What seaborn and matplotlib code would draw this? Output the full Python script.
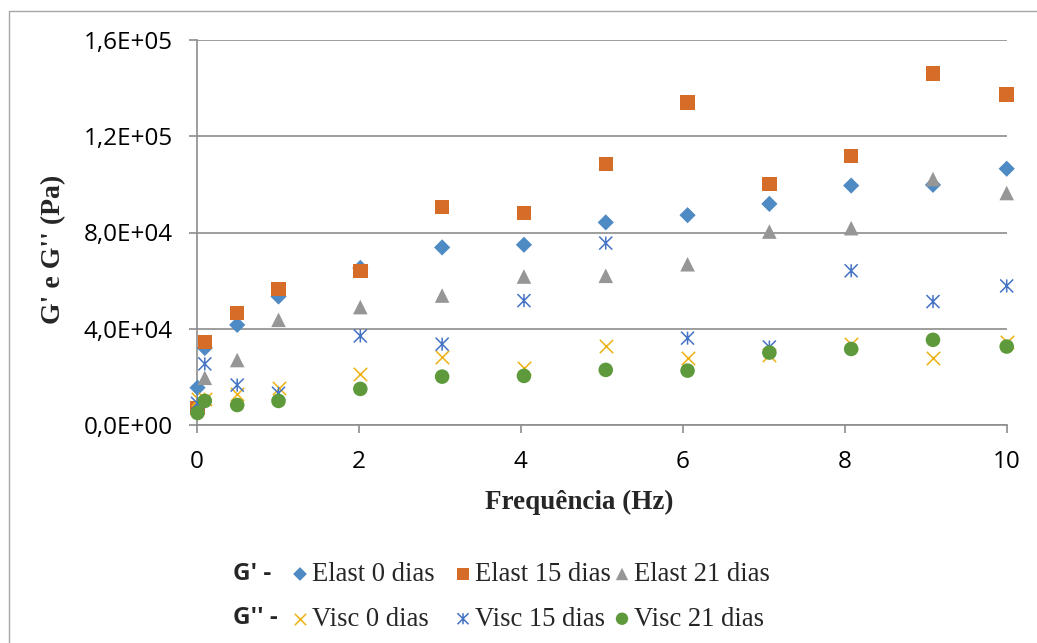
import numpy as np
import pandas as pd
import matplotlib
matplotlib.use("Agg")
import matplotlib.pyplot as plt
from matplotlib.path import Path
from matplotlib.patches import Rectangle
from matplotlib.ticker import FuncFormatter, FixedLocator
import seaborn as sns

# ---------------- data ----------------
freq = [0.01, 0.1, 0.5, 1.01, 2.02, 3.03, 4.04, 5.05, 6.06, 7.07, 8.08, 9.09, 10.0]
elast_0 = [15500, 32000, 41600, 53400, 65300, 73800, 74900, 84200, 87200, 91900, 99500, 99800, 106500]
elast_15 = [7000, 34500, 46600, 56600, 64100, 90600, 88200, 108400, 134000, 100200, 111900, 146000, 137300]
elast_21 = [8000, 19600, 27000, 43700, 49000, 53800, 61700, 62000, 66800, 80400, 81800, 102200, 96400]
visc_0 = [11000, 11000, 13000, 15300, 21200, 28200, 23500, 32900, 27700, 29000, 33800, 27700, 34500]
visc_15 = [9000, 25400, 16600, 13200, 37000, 33600, 51700, 75600, 36100, 32400, 64100, 51300, 57800]
visc_21 = [5000, 10000, 8300, 10000, 15000, 20100, 20400, 22900, 22600, 30100, 31600, 35400, 32600]

series_labels = ["Elast 0 dias", "Elast 15 dias", "Elast 21 dias",
                 "Visc 0 dias", "Visc 15 dias", "Visc 21 dias"]
x_ticks = [0, 2, 4, 6, 8, 10]
y_ticks = [0, 40000, 80000, 120000, 160000]
x_label = "Frequência (Hz)"
y_label = "G' e G'' (Pa)"
legend_prefix = ["G' -", "G'' -"]

# ---------------- style ----------------
sns.set_style("white")
plt.rcParams["font.family"] = ["Open Sans", "DejaVu Sans"]

star = Path([(0, -1), (0, 1), (-1, -1), (1, 1), (-1, 1), (1, -1)],
            [Path.MOVETO, Path.LINETO] * 3)

styles = [
    dict(marker="D", color="#4E8AC3", s=68, filled=True, lw=0),
    dict(marker="s", color="#D56D29", s=108, filled=True, lw=0),
    dict(marker="^", color="#969696", s=110, filled=True, lw=0),
    dict(marker="x", color="#EDB10F", s=92, filled=False, lw=1.1),
    dict(marker=star, color="#4472C4", s=88, filled=True, lw=1.1),
    dict(marker="o", color="#5E9A3C", s=110, filled=True, lw=0),
]

values = [elast_0, elast_15, elast_21, visc_0, visc_15, visc_21]
df = pd.concat([pd.DataFrame({"freq": freq, "G": v, "serie": lab})
                for v, lab in zip(values, series_labels)], ignore_index=True)

W, H = 1037, 643
fig = plt.figure(figsize=(W / 100, H / 100), dpi=100)
ax = fig.add_axes([196.7 / W, 1 - 425 / H, 810 / W, 385 / H])

handles = []
for lab, st in zip(series_labels, styles):
    sub = df[df["serie"] == lab]
    kw = dict(marker=st["marker"], s=st["s"], color=st["color"], clip_on=False,
              zorder=3, legend=False, ax=ax)
    if st["marker"] is star:
        kw.update(edgecolor=st["color"], linewidth=st["lw"], facecolor="none")
    elif st["filled"]:
        kw.update(edgecolor="none", linewidth=0)
    else:
        kw.update(linewidth=st["lw"])
    sns.scatterplot(data=sub, x="freq", y="G", **kw)
    handles.append(ax.collections[-1])

grid_c = "#8C8C8C"
ax.set_xlim(0, 10)
ax.set_ylim(0, 160000)
ax.xaxis.set_major_locator(FixedLocator(x_ticks))
ax.yaxis.set_major_locator(FixedLocator(y_ticks))


def excel_sci(v, pos):
    if v == 0:
        return "0,0E+00"
    e = int(np.floor(np.log10(abs(v))))
    m = v / 10 ** e
    return f"{m:.1f}".replace(".", ",") + f"E+{e:02d}"


ax.yaxis.set_major_formatter(FuncFormatter(excel_sci))
ax.xaxis.set_major_formatter(FuncFormatter(lambda v, p: f"{v:g}"))

ax.set_axisbelow(True)
ax.grid(axis="y", color=grid_c, lw=1.2)
ax.grid(axis="x", visible=False)
for side in ["top", "right"]:
    ax.spines[side].set_visible(False)
for side in ["left", "bottom"]:
    ax.spines[side].set_color(grid_c)
    ax.spines[side].set_linewidth(1.2)
ax.tick_params(axis="both", which="major", direction="out", length=6, width=1.2,
               color=grid_c, labelsize=17.5, labelcolor="black")
ax.tick_params(axis="y", pad=11, left=True)
ax.tick_params(axis="x", pad=12, bottom=True)

ax.set_xlabel(x_label, family="Liberation Serif", weight="bold", fontsize=19.5)
ax.set_ylabel(y_label, family="Liberation Serif", weight="bold", fontsize=20)
ax.xaxis.set_label_coords((579 - 196.7) / 810, -(490 - 425) / 385)
ax.yaxis.set_label_coords((66 - 196.7) / 810, (425 - 249) / 385)

# ---------------- legend ----------------
col_left = [292, 455, 614]
leg_top = 562
for i, xl in enumerate(col_left):
    leg = fig.legend(handles=[handles[i], handles[i + 3]],
                     labels=[series_labels[i], series_labels[i + 3]],
                     loc="upper left", bbox_to_anchor=(xl / W, 1 - leg_top / H),
                     frameon=False, borderpad=0, borderaxespad=0,
                     handlelength=0.6, handletextpad=0.15, labelspacing=0.74,
                     markerscale=0.85, scatterpoints=1,
                     prop=dict(family="Liberation Serif", size=19.2))

for j, (txt, yc) in enumerate(zip(legend_prefix, [574, 618])):
    fig.text(233 / W, 1 - yc / H, txt, ha="left", va="center",
             family="Open Sans", weight="bold", fontsize=17.5)

# outer chart border
fig.patches.append(Rectangle((9 / W, -0.05), 1.2, 1 - 11 / H + 0.05,
                             transform=fig.transFigure, fill=False,
                             edgecolor="#A6A6A6", lw=1, clip_on=False))

fig.savefig("out.png", dpi=100)
